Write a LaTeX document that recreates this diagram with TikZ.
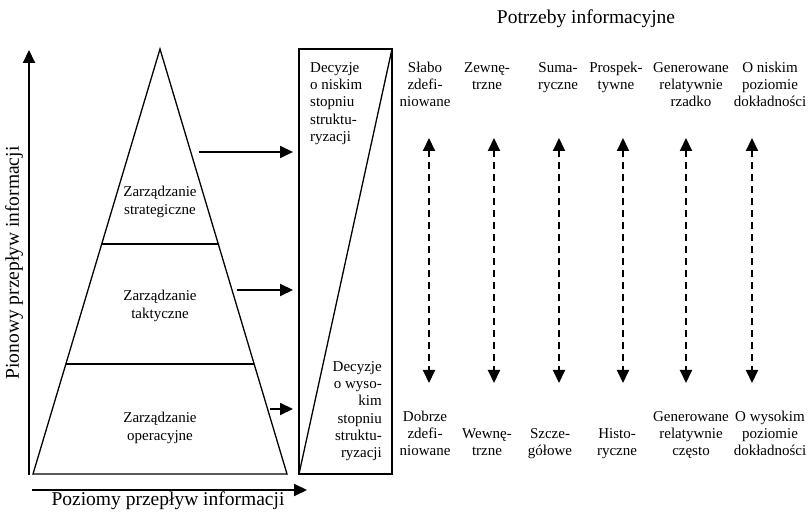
\documentclass[tikz,border=0pt]{standalone}
\usepackage{fontspec}
\setmainfont{Liberation Serif}
\usetikzlibrary{arrows.meta,calc}
\begin{document}
\begin{tikzpicture}[x=1pt,y=-1pt,
  small/.style={font=\fontsize{15}{17.3}\selectfont, inner sep=0pt, align=center},
  big/.style={font=\fontsize{19.5}{22}\selectfont, inner sep=0pt},
  thinline/.style={line width=1.3pt},
  boxline/.style={line width=1.6pt},
  solidarrow/.style={line width=2pt, -{Triangle[length=13pt,width=12pt]}},
  dasharrow/.style={line width=2pt, dash pattern=on 7pt off 5pt,
    {Triangle[length=13pt,width=12pt]}-{Triangle[length=13pt,width=12pt]}},
]
\useasboundingbox (0,0) rectangle (809,518);

% pyramid
\coordinate (apex) at (160,49);
\coordinate (bl) at (33,474);
\coordinate (br) at (287,474);
\draw[thinline] (apex) -- (bl) -- (br) -- cycle;
\coordinate (l1l) at ($(apex)!0.4588!(bl)$);
\coordinate (l1r) at ($(apex)!0.4588!(br)$);
\coordinate (l2l) at ($(apex)!0.7412!(bl)$);
\coordinate (l2r) at ($(apex)!0.7412!(br)$);
\draw[thinline] (l1l) -- (l1r);
\draw[thinline] (l2l) -- (l2r);

\node[small] (strat) at (160,202) {Zarządzanie\\strategiczne};
\node[small] (takt) at (160,306) {Zarządzanie\\taktyczne};
\node[small] (oper) at (160,428) {Zarządzanie\\operacyjne};

% axes
\coordinate (vaxb) at (29,475);
\coordinate (vaxt) at (29,50);
\draw[solidarrow] (vaxb) -- (vaxt);
\coordinate (haxl) at (32,490);
\coordinate (haxr) at (307,490);
\draw[solidarrow] (haxl) -- (haxr);
\node[big, anchor=base] (hlab) at (168,506) {Poziomy przepływ informacji};
\node[big, rotate=90] (vlab) at (14,263) {Pionowy przepływ informacji};

% decision box
\coordinate (btl) at (299,49);
\coordinate (btr) at (392,49);
\coordinate (bbl) at (299,474);
\coordinate (bbr) at (392,474);
\draw[boxline] (btl) -- (btr) -- (bbr) -- (bbl) -- cycle;
\draw[thinline] (btr) -- (bbl);
\node[small, align=left, anchor=north west] (dtop) at (310,60)
  {\strut Decyzje\\o niskim\\stopniu\\struktu-\\ryzacji};
\node[small, align=right, anchor=south east] (dbot) at (382,463)
  {Decyzje\\o wyso-\\kim\\stopniu\\struktu-\\ryzacji\strut};

% arrows pyramid -> box
\coordinate (a1s) at (199,152); \coordinate (a1e) at (293,152);
\coordinate (a2s) at (237,290); \coordinate (a2e) at (293,290);
\coordinate (a3s) at (270,409); \coordinate (a3e) at (293,409);
\draw[solidarrow] (a1s) -- (a1e);
\draw[solidarrow] (a2s) -- (a2e);
\draw[solidarrow] (a3s) -- (a3e);

% title
\node[big, anchor=base] (title) at (586,24) {Potrzeby informacyjne};

% top texts
\node[small, anchor=north] (c1) at (425,60) {\strut Słabo\\zdefi-\\niowane};
\node[small, anchor=north] (c2) at (487,60) {\strut Zewnę-\\trzne};
\node[small, anchor=north] (c3) at (558,60) {\strut Suma-\\ryczne};
\node[small, anchor=north] (c4) at (616,60) {\strut Prospek-\\tywne};
\node[small, anchor=north] (c5) at (691,60) {\strut Generowane\\relatywnie\\rzadko};
\node[small, anchor=north] (c6) at (770,60) {\strut O niskim\\poziomie\\dokładności};

% bottom texts
\node[small, anchor=south] (d1) at (425,461) {Dobrze\\zdefi-\\niowane\strut};
\node[small, anchor=south] (d2) at (487,461) {Wewnę-\\trzne\strut};
\node[small, anchor=south] (d3) at (550,461) {Szcze-\\gółowe\strut};
\node[small, anchor=south] (d4) at (617,461) {Histo-\\ryczne\strut};
\node[small, anchor=south] (d5) at (691,461) {Generowane\\relatywnie\\często\strut};
\node[small, anchor=south] (d6) at (770,461) {O wysokim\\poziomie\\dokładności\strut};

% dashed double arrows
\foreach \i/\x in {1/429,2/494,3/559,4/623,5/686,6/752}{
  \coordinate (t\i) at (\x,138);
  \coordinate (b\i) at (\x,383);
  \draw[dasharrow] (t\i) -- (b\i);
}
\end{tikzpicture}
\end{document}
